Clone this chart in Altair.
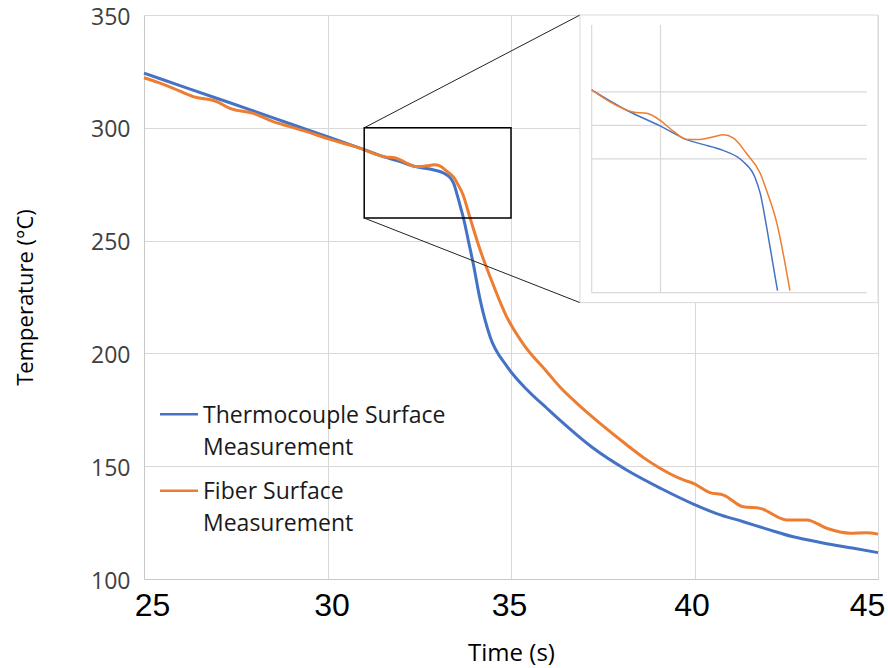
import altair as alt
import pandas as pd

# ---------------- data ----------------
series_names = ["Thermocouple Surface Measurement", "Fiber Surface Measurement"]
series_colors = ["#4472C4", "#ED7D31"]

tc_time = [25, 26, 27, 28, 29, 30, 31, 31.5, 32, 32.4, 32.6, 32.9, 33.2, 33.37, 33.45,
           33.54, 33.64, 33.7, 33.85, 33.97, 34.16, 34.43, 34.88, 35.43, 35.97, 36.34,
           37.2, 38.15, 39.1, 39.97, 40.6, 41.33, 42, 42.69, 43.5, 44.3, 45]
tc_temp = [324.2, 318.6, 313.0, 307.4, 301.7, 296.1, 290.3, 287.3, 284.9, 282.8, 282.2,
           281.3, 279.6, 277.3, 274.8, 269.9, 263.9, 260.3, 249, 239.9, 223.7, 207.4,
           194.5, 184.0, 175.8, 170.3, 158.5, 148.3, 140, 133.2, 129, 125.4, 122, 118.7,
           116, 113.7, 111.7]

fb_time = [25, 25.4, 25.8, 26.34, 26.98, 27.34, 27.98, 28.52, 28.98, 29.43, 29.98, 30.7,
           31.0, 31.22, 31.6, 31.8, 32.0, 32.19, 32.38, 32.57, 32.77, 32.91, 33.06, 33.25,
           33.45, 33.54, 33.69, 33.88, 34.16, 34.43, 34.88, 35.34, 35.97, 36.34, 36.79,
           37.24, 38.15, 38.61, 39.06, 39.7, 39.97, 40.42, 40.79, 41.33, 41.79, 42.51,
           43.06, 43.6, 44.24, 44.69, 45]
fb_temp = [322.2, 320, 317.5, 313.8, 311.6, 308.6, 306.4, 302.7, 300.5, 298.3, 295.3,
           291.9, 290.3, 288.8, 287.0, 286.8, 285.7, 284.1, 282.9, 282.9, 283.3, 283.6,
           283.1, 280.8, 277.8, 275.3, 270.4, 260.3, 245.8, 234.0, 216.3, 204.0, 192.0,
           185.0, 178.0, 171.5, 159.5, 153.8, 149.1, 143.9, 142.4, 138.3, 137.2, 132.0,
           131.3, 126.2, 126.2, 122.5, 120.3, 120.5, 119.9]

x_ticks = [25, 30, 35, 40, 45]
y_ticks = [100, 150, 200, 250, 300, 350]

zoom_x = [31, 35]          # zoomed window (time)
zoom_y = [260, 300]        # zoomed window (temperature)
inset_x_lines = [31, 32]
inset_y_lines = [260, 280, 285, 290]
inset_frame_x = [36.88, 45]
inset_frame_y = [222.5, 350]

# ---------------- tables ----------------
df = pd.concat([
    pd.DataFrame({"time": tc_time, "temp": tc_temp, "series": series_names[0]}),
    pd.DataFrame({"time": fb_time, "temp": fb_temp, "series": series_names[1]}),
], ignore_index=True)

box_df = pd.DataFrame({"x": [zoom_x[0]], "x2": [zoom_x[1]], "y": [zoom_y[0]], "y2": [zoom_y[1]]})
conn_df = pd.DataFrame({"x": [zoom_x[0], zoom_x[0]], "y": [zoom_y[1], zoom_y[0]],
                        "x2": [inset_frame_x[0]] * 2, "y2": [inset_frame_y[1], inset_frame_y[0]]})
frame_df = pd.DataFrame({"x": [inset_frame_x[0]], "x2": [inset_frame_x[1]],
                         "y": [inset_frame_y[0]], "y2": [inset_frame_y[1]]})
vgrid_df = pd.DataFrame({"gx": inset_x_lines, "y0": zoom_y[0], "y1": zoom_y[1]})
hgrid_df = pd.DataFrame({"gy": inset_y_lines, "x0": zoom_x[0], "x1": zoom_x[1]})

W, H = 734, 564
GRID = "#d9d9d9"
color_scale = alt.Scale(domain=series_names, range=series_colors)

xs = alt.Scale(domain=[25, 45], nice=False, zero=False)
ys = alt.Scale(domain=[100, 350], nice=False, zero=False)
XT, YT = "Time (s)", "Temperature (°C)"

x_axis = alt.Axis(values=x_ticks, grid=True, gridColor=GRID, ticks=False, domainColor="#c8c8c8",
                  labelFont="Liberation Sans", labelFontSize=32, labelColor="black", labelPadding=11,
                  labelFlush=False,
                  labelOffset={"condition": [{"test": "datum.value == 25", "value": 8},
                                             {"test": "datum.value == 30", "value": 4},
                                             {"test": "datum.value == 35", "value": -2},
                                             {"test": "datum.value == 40", "value": -3},
                                             {"test": "datum.value == 45", "value": -11}],
                               "value": 0},
                  titleFont="Open Sans", titleFontSize=24, titleFontWeight="normal", titleColor="black",
                  titleY=81, titleBaseline="alphabetic")
y_axis = alt.Axis(values=y_ticks, grid=True, gridColor=GRID, ticks=False, domainColor="#c8c8c8",
                  labelFont="Open Sans", labelFontSize=23, labelColor="#404040", labelPadding=14,
                  labelOffset=2, labelFlush=False,
                  titleFont="Open Sans", titleFontSize=22, titleFontWeight="normal", titleColor="black",
                  titleX=-119, titleY=H / 2, titleAngle=270, titleBaseline="middle", titleAlign="center")

lines = alt.Chart(df).mark_line(strokeWidth=3, interpolate="monotone").encode(
    x=alt.X("time:Q", scale=xs, axis=x_axis, title=XT),
    y=alt.Y("temp:Q", scale=ys, axis=y_axis, title=YT),
    color=alt.Color("series:N", scale=color_scale, legend=None),
    detail="series:N",
)

box = alt.Chart(box_df).mark_rect(fillOpacity=0, stroke="black", strokeWidth=1.5).encode(
    x=alt.X("x:Q", scale=xs, title=XT), x2="x2", y=alt.Y("y:Q", scale=ys, title=YT), y2="y2")

connectors = alt.Chart(conn_df).mark_rule(color="#222222", strokeWidth=1).encode(
    x=alt.X("x:Q", scale=xs, title=XT), x2="x2", y=alt.Y("y:Q", scale=ys, title=YT), y2="y2")

frame = alt.Chart(frame_df).mark_rect(fill="white", stroke=GRID, strokeWidth=1).encode(
    x=alt.X("x:Q", scale=xs, title=XT), x2="x2", y=alt.Y("y:Q", scale=ys, title=YT), y2="y2")

# legend (drawn by hand so entries wrap like the original)
leg_rows = []
for i, (ry, ty, txt) in enumerate([(399.3, 408, ["Thermocouple Surface", "Measurement"]),
                                    (475.7, 484, ["Fiber Surface", "Measurement"])]):
    ldf = pd.DataFrame({"series": [series_names[i]]})
    leg_rows.append(alt.Chart(ldf).mark_rule(strokeWidth=2.5).encode(
        x=alt.value(16), x2=alt.value(54), y=alt.value(ry),
        color=alt.Color("series:N", scale=color_scale, legend=None)))
    leg_rows.append(alt.Chart(ldf).mark_text(text=txt, font="Open Sans", fontSize=23, lineHeight=31.5,
                                            align="left", baseline="alphabetic", color="#1a1a1a").encode(
        x=alt.value(59), y=alt.value(ty)))

main = alt.layer(lines, box, connectors, frame, *leg_rows)

# ---------------- inset ----------------
xi = alt.Scale(domain=zoom_x, range=[447.7, 723], nice=False, zero=False)
yi = alt.Scale(domain=zoom_y, range=[277.7, 10], nice=False, zero=False)

vgrid = alt.Chart(vgrid_df).mark_rule(color=GRID, strokeWidth=1.2).encode(
    x=alt.X("gx:Q", scale=xi, axis=None), y=alt.Y("y0:Q", scale=yi, axis=None), y2="y1")
hgrid = alt.Chart(hgrid_df).mark_rule(color=GRID, strokeWidth=1.2).encode(
    x=alt.X("x0:Q", scale=xi, axis=None), x2="x1", y=alt.Y("gy:Q", scale=yi, axis=None))
inset_lines = alt.Chart(df).transform_filter(
    (alt.datum.time >= zoom_x[0]) & (alt.datum.time <= zoom_x[1]) & (alt.datum.temp >= zoom_y[0] - 1)
).mark_line(strokeWidth=1.5, interpolate="monotone").encode(
    x=alt.X("time:Q", scale=xi, axis=None),
    y=alt.Y("temp:Q", scale=yi, axis=None),
    color=alt.Color("series:N", scale=color_scale, legend=None),
    detail="series:N",
)
inset = alt.layer(vgrid, hgrid, inset_lines)

chart = alt.layer(main, inset).resolve_scale(x="independent", y="independent").properties(
    width=W, height=H,
    padding={"left": 144, "top": 15, "right": 10, "bottom": 89},
    autosize="none",
    background="white",
).configure_view(stroke=None)

chart.save("out.html", embed_options={"renderer": "svg", "actions": False})
